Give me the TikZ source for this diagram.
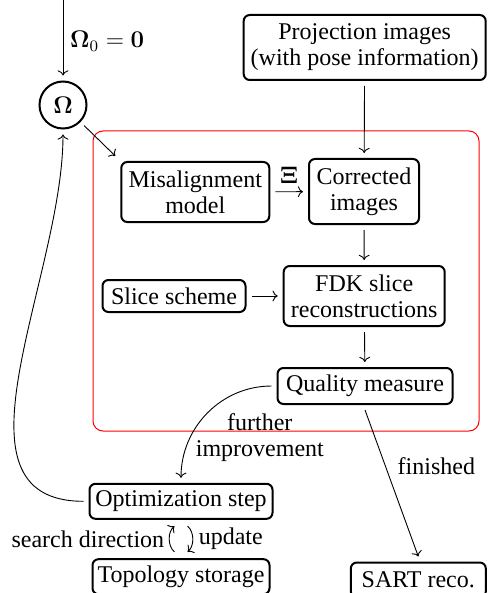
\documentclass[tikz,border=0pt]{standalone}
\usepackage[no-math]{fontspec}
\setmainfont{Liberation Serif}
\usetikzlibrary{arrows.meta}
\tikzset{
  box/.style={draw, line width=1pt, rounded corners=3pt, inner sep=2pt,
    align=center, outer sep=3pt},
  flow/.style={->, line width=0.45pt},
  lbl/.style={align=center},
}
\begin{document}
\begin{tikzpicture}[x=0.5pt, y=-0.5pt, font=\fontsize{12}{13}\selectfont]
  \useasboundingbox (0,0) rectangle (489,593);

  % optimization loop frame
  \draw[red, line width=0.5pt, rounded corners=5pt] (93,131) rectangle (479,431);

  % parameter state
  \coordinate (start) at (63,0);
  \node[draw, circle, line width=1pt, minimum size=23.5pt, inner sep=0pt, outer sep=3pt]
    (omega) at (63,105) {$\mathbf{\Omega}$};

  % processing blocks
  \node[box, minimum width=121pt, minimum height=32.5pt] (proj) at (364.7,47.5)
    {Projection images\\(with pose information)};
  \node[box, minimum width=74pt, minimum height=30pt] (mis) at (195.3,192)
    {Misalignment\\model};
  \node[box, minimum width=55pt, minimum height=32.5pt] (cor) at (364,191.5)
    {Corrected\\images};
  \node[box, minimum width=71.5pt, minimum height=16pt] (slice) at (174,296)
    {Slice scheme};
  \node[box, minimum width=80.5pt, minimum height=30pt] (fdk) at (364.2,296)
    {FDK slice\\reconstructions};
  \node[box, minimum width=87.5pt, minimum height=18pt] (qual) at (365,386)
    {Quality measure};
  \node[box, minimum width=91.5pt, minimum height=17.5pt] (opt) at (181,501.3)
    {Optimization step};
  \node[box, minimum width=88.5pt, minimum height=17.5pt] (topo) at (181,576.7)
    {Topology storage};
  \node[box, minimum width=67.5pt, minimum height=17.5pt] (sart) at (418.3,580)
    {SART reco.};

  % connectors
  \draw[flow] (start) -- node[lbl, right, pos=0.55] {$\mathbf{\Omega}_0=\mathbf{0}$} (omega);
  \draw[flow] (omega) -- (mis.north west);
  \draw[flow] (proj) -- (cor);
  \draw[flow] (mis) -- node[above, inner sep=4pt] {$\mathbf{\Xi}$} (cor);
  \draw[flow] (cor) -- (fdk);
  \draw[flow] (slice) -- (fdk);
  \draw[flow] (fdk) -- (qual);
  \draw[flow] (qual.west) to[out=180, in=90]
    node[lbl, pos=0.5, anchor=north west, inner sep=0pt, xshift=-6pt]
      {further\\improvement} (opt.north);
  \draw[flow] (qual.south) -- node[lbl, pos=0.38, anchor=west, inner sep=0pt, xshift=6pt]
    {finished} (sart.north);
  \draw[flow] (opt.west) to[out=180, in=-90, looseness=1] (omega.south);
  \draw[flow, shorten <=1pt, shorten >=1pt] ([xshift=-2.5pt]topo.north) to[bend left=50]
    node[lbl, left, inner sep=2.5pt] {search direction} ([xshift=-2.5pt]opt.south);
  \draw[flow, shorten <=1pt, shorten >=1pt] ([xshift=2.5pt]opt.south) to[bend left=50]
    node[lbl, right, inner sep=3pt] {update} ([xshift=2.5pt]topo.north);
\end{tikzpicture}
\end{document}
